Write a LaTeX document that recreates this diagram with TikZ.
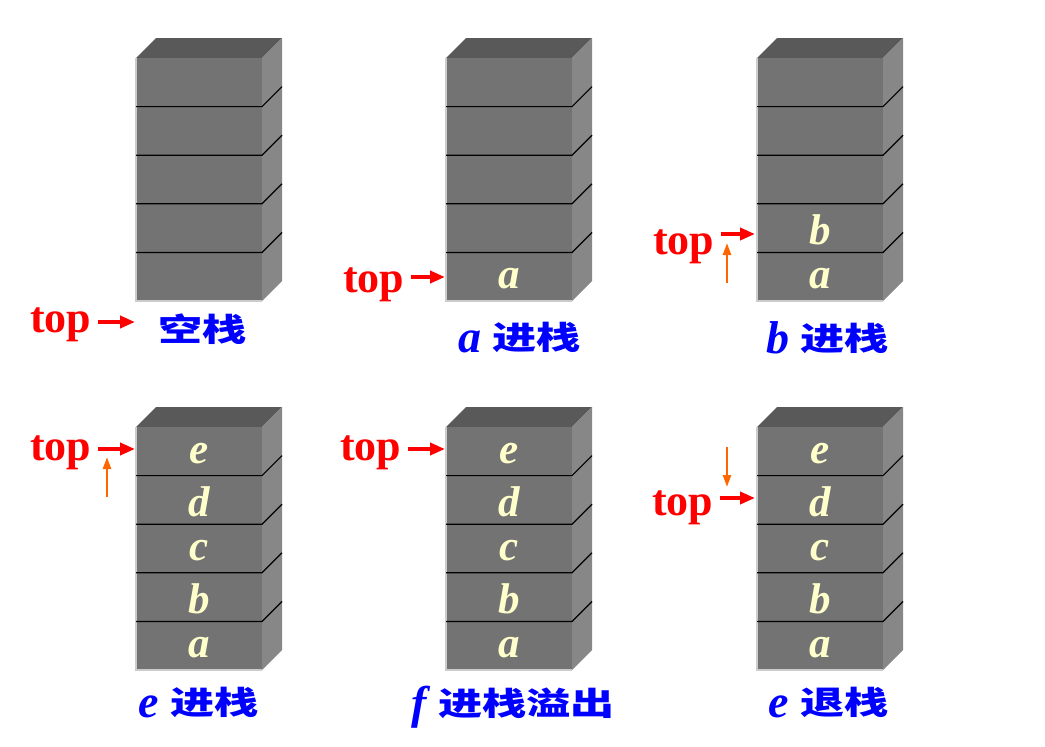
\documentclass[tikz,border=0pt]{standalone}
\usepackage{fontspec}
\usepackage{graphicx}
\usetikzlibrary{arrows.meta}
\setmainfont{Liberation Serif}
\newfontfamily\cjk{Noto Sans CJK SC}
\definecolor{frontgray}{HTML}{737373}
\definecolor{topgray}{HTML}{595959}
\definecolor{sidegray}{HTML}{878787}
\definecolor{cellyellow}{HTML}{FFFFCC}
\definecolor{ptrorange}{HTML}{FF6600}
\newcommand{\zh}[1]{\raisebox{3pt}{\scalebox{1.38}[1]{\cjk\upshape\bfseries\fontsize{32}{32}\selectfont #1}}}
% one stack, #1,#2 = upper left corner of front face
\newcommand{\drawstack}[2]{%
  \fill[topgray] (#1,#2) -- ++(20,-20) -- ++(126,0) -- ++(-20,20) -- cycle;
  \fill[sidegray] (#1+126,#2) -- ++(20,-20) -- ++(0,243) -- ++(-20,20) -- cycle;
  \fill[frontgray] (#1,#2) rectangle ++(126,243);
  \draw[gray!40,line width=1.5pt] (#1,#2) -- ++(0,243) -- ++(126,0);
  \foreach \k in {1,...,4}
    \draw[line width=1.2pt] (#1,#2+\k*48.6) -- ++(126,0) -- ++(20,-20);
}
\tikzset{
  toplabel/.style={text=red,font=\fontsize{44}{44}\selectfont\bfseries,inner sep=0pt,anchor=base west},
  toparrow/.style={red,line width=4pt,shorten <=6pt,-{Triangle[length=15pt,width=12pt]}},
  movearrow/.style={ptrorange,line width=2.5pt,-{Triangle[length=12pt,width=8pt]}},
  cell/.style={text=cellyellow,font=\fontsize{43}{43}\selectfont\bfseries\itshape,inner sep=0pt},
  caption/.style={text=blue,font=\fontsize{46}{46}\selectfont\bfseries\itshape,inner sep=0pt,anchor=base west}
}
\begin{document}
\begin{tikzpicture}[x=1pt,y=-1pt]
\useasboundingbox (0,0) rectangle (1045,747);
%stacks
\drawstack{136}{58}
\drawstack{446}{58}
\drawstack{757}{58}
\drawstack{136}{427}
\drawstack{446}{427}
\drawstack{757}{427}
%contents
\node[cell] (s2-1) at (509,278.7) {a};
\foreach \c [count=\k] in {a,b}
  \node[cell] (s3-\k) at (820,327.3-48.6*\k) {\c};
\foreach \c [count=\k] in {a,b,c,d,e}
  \node[cell] (s4-\k) at (199,696.3-48.6*\k) {\c};
\foreach \c [count=\k] in {a,b,c,d,e}
  \node[cell] (s5-\k) at (509,696.3-48.6*\k) {\c};
\foreach \c [count=\k] in {a,b,c,d,e}
  \node[cell] (s6-\k) at (820,696.3-48.6*\k) {\c};
%top pointers
\node[toplabel] (t1) at (30,332) {top};
\coordinate (p1) at (135,322);
\draw[toparrow] (t1.east |- p1) -- (p1);
\node[toplabel] (t2) at (343,292) {top};
\coordinate (p2) at (445,277);
\draw[toparrow] (t2.east |- p2) -- (p2);
\node[toplabel] (t3) at (653,254) {top};
\coordinate (p3) at (755,234);
\draw[toparrow] (t3.east |- p3) -- (p3);
\node[toplabel] (t4) at (30,460) {top};
\coordinate (p4) at (135,449);
\draw[toparrow] (t4.east |- p4) -- (p4);
\node[toplabel] (t5) at (340,460) {top};
\coordinate (p5) at (445,449);
\draw[toparrow] (t5.east |- p5) -- (p5);
\node[toplabel] (t6) at (652,515) {top};
\coordinate (p6) at (755,498);
\draw[toparrow] (t6.east |- p6) -- (p6);
%moves
\coordinate (m3a) at (727,283);
\coordinate (m3b) at (727,243);
\draw[movearrow] (m3a) -- (m3b);
\coordinate (m4a) at (107,497);
\coordinate (m4b) at (107,457);
\draw[movearrow] (m4a) -- (m4b);
\coordinate (m6a) at (727,447);
\coordinate (m6b) at (727,487);
\draw[movearrow] (m6a) -- (m6b);
%text
\node[caption] (c1) at (158,344) {\zh{空栈}};
\node[caption] (c2) at (458,352) {a \zh{进栈}};
\node[caption] (c3) at (766,353) {b \zh{进栈}};
\node[caption] (c4) at (138,717) {e \zh{进栈}};
\node[caption] (c5) at (411,718) {f \zh{进栈溢出}};
\node[caption] (c6) at (768,717) {e \zh{退栈}};
\end{tikzpicture}
\end{document}
